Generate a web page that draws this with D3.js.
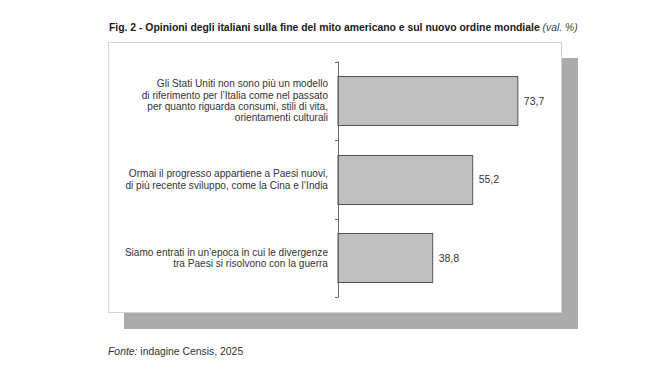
<!DOCTYPE html>
<html><head><meta charset="utf-8">
<script src="https://cdn.jsdelivr.net/npm/d3@7"></script>
<style>body{margin:0;background:#fff;}svg{display:block;font-family:"Liberation Sans",Arial,sans-serif;}</style>
</head><body><svg id="c" width="655" height="383"></svg>
<script>
const categories = [
  ["Gli Stati Uniti non sono più un modello", "di riferimento per l’Italia come nel passato", "per quanto riguarda consumi, stili di vita,", "orientamenti culturali"],
  ["Ormai il progresso appartiene a Paesi nuovi,", "di più recente sviluppo, come la Cina e l’India"],
  ["Siamo entrati in un’epoca in cui le divergenze", "tra Paesi si risolvono con la guerra"]
];
const values = [73.7, 55.2, 38.8];
const valueLabels = ["73,7", "55,2", "38,8"];
const titleBold = "Fig. 2 - Opinioni degli italiani sulla fine del mito americano e sul nuovo ordine mondiale";
const titleItalic = "(val. %)";
const sourceItalic = "Fonte:";
const sourceText = " indagine Censis, 2025";

const svg = d3.select("#c");
// title
const t = svg.append("text").attr("x", 109).attr("y", 30.5).attr("font-size", 10.4).attr("fill", "#1a1a1a");
t.append("tspan").attr("font-weight", "bold").text(titleBold);
t.append("tspan").attr("font-style", "italic").attr("fill", "#444").text(" " + titleItalic);

// shadow and panel
svg.append("rect").attr("x", 124).attr("y", 58).attr("width", 454).attr("height", 271).attr("fill", "#ababab");
svg.append("rect").attr("x", 108.5).attr("y", 42.5).attr("width", 453).attr("height", 270).attr("fill", "#fff").attr("stroke", "#d4d4d4").attr("stroke-width", 1);

const x = d3.scaleLinear().domain([0, 100]).range([338, 582]);
const y = d3.scaleBand().domain(d3.range(values.length)).range([61.5, 297]).paddingInner(0.37).paddingOuter(0.185);

// bars
svg.append("g").selectAll("rect").data(values).join("rect")
  .attr("x", x(0)).attr("y", (d, i) => Math.round(y(i)) + 0.5)
  .attr("width", d => x(d) - x(0)).attr("height", Math.round(y.bandwidth()))
  .attr("fill", "#bfbfbf").attr("stroke", "#555").attr("stroke-width", 1);

// axis line with ticks at band boundaries
const bounds = d3.range(values.length + 1).map(i => 61.5 + i * (297 - 61.5) / values.length);
const ax = svg.append("g").attr("stroke", "#666").attr("stroke-width", 1);
ax.append("line").attr("x1", 338.5).attr("x2", 338.5).attr("y1", bounds[0]).attr("y2", bounds[bounds.length - 1]);
ax.selectAll("line.t").data(bounds).join("line").attr("class", "t")
  .attr("x1", 335).attr("x2", 338.5).attr("y1", d => Math.round(d) + 0.5).attr("y2", d => Math.round(d) + 0.5);

// value labels
svg.append("g").selectAll("text").data(values).join("text")
  .attr("x", d => x(d) + 6).attr("y", (d, i) => y(i) + y.bandwidth() / 2 + 3.8)
  .attr("font-size", 10.5).attr("fill", "#333").text((d, i) => valueLabels[i]);

// category labels
const cl = svg.append("g").selectAll("text").data(categories).join("text")
  .attr("text-anchor", "end").attr("font-size", 10.1).attr("fill", "#333");
cl.each(function(lines, i) {
  const lh = 11.4;
  const cy = y(i) + y.bandwidth() / 2;
  const y0 = cy - (lines.length - 1) * lh / 2 + 3.6;
  d3.select(this).selectAll("tspan").data(lines).join("tspan")
    .attr("x", 328).attr("y", (d, j) => y0 + j * lh).text(d => d);
});

// source
const s = svg.append("text").attr("x", 108).attr("y", 355).attr("font-size", 10.4).attr("fill", "#333");
s.append("tspan").attr("font-style", "italic").text(sourceItalic);
s.append("tspan").text(sourceText);
</script></body></html>
